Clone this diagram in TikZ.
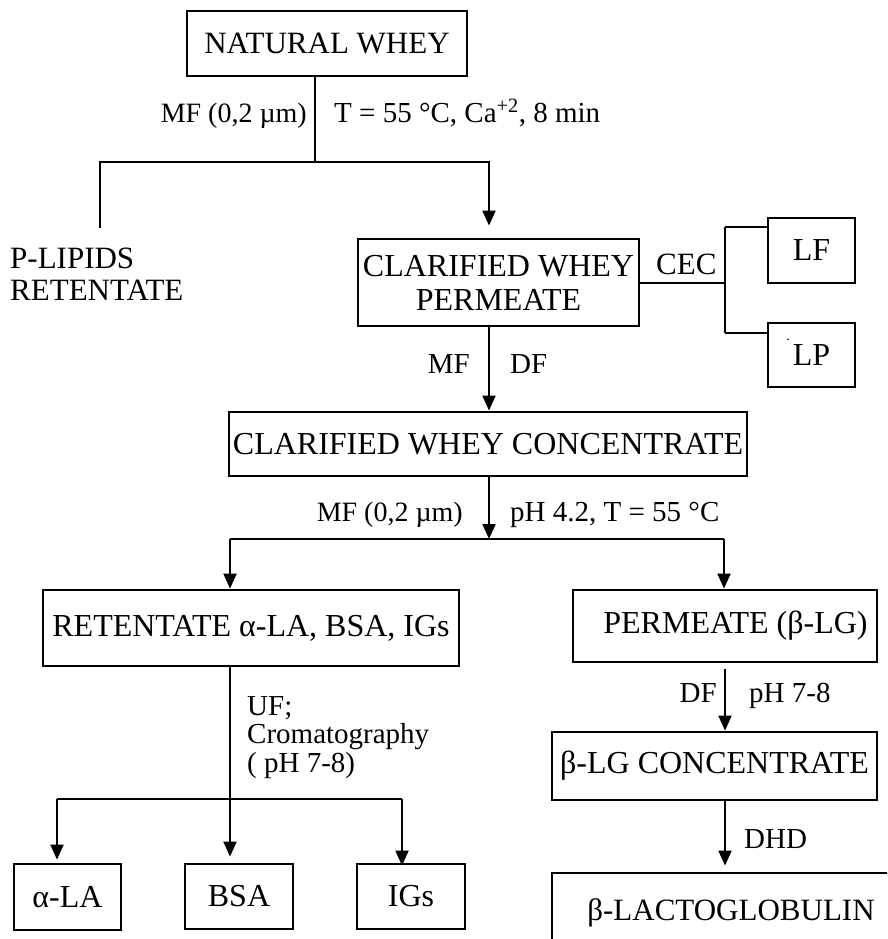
\documentclass[tikz,border=0pt]{standalone}
\usepackage{fontspec}
\setmainfont{Liberation Serif}
\usetikzlibrary{arrows.meta}
\begin{document}
\begin{tikzpicture}[x=1pt,y=-1pt,
  box/.style={draw, line width=2.8pt, inner sep=0pt, align=center,
              font=\fontsize{32}{34}\selectfont},
  boxs/.style={box, font=\fontsize{31}{34}\selectfont},
  lbl/.style={inner sep=0pt, font=\fontsize{29}{29}\selectfont},
  small/.style={lbl, font=\fontsize{28}{28}\selectfont},
  flow/.style={line width=2pt},
  arr/.style={flow, -{Triangle[length=15pt,width=13pt]}}
]
\useasboundingbox (0,0) rectangle (887,939);
\clip (0,0) rectangle (887,939);

% process boxes
\node[boxs, minimum width=280pt, minimum height=65pt] (nw)  at (327,43.5)  {NATURAL WHEY};
\node[box, minimum width=281pt, minimum height=87pt] (cwp) at (498.5,282.5) {CLARIFIED WHEY\\PERMEATE};
\node[box, minimum width=87pt,  minimum height=65pt] (lf)  at (811.5,250.5) {LF};
\node[box, minimum width=87pt,  minimum height=64pt] (lp)  at (811.5,355)  {LP};
\node[inner sep=0pt, font=\fontsize{14}{14}\selectfont] (lpdot) at (788,340) {.};
\node[box, minimum width=518pt, minimum height=64pt] (cwc) at (488,444)    {CLARIFIED WHEY CONCENTRATE};
\node[box, minimum width=416pt, minimum height=76pt] (ret) at (251,628)    {RETENTATE α-LA, BSA, IGs};
\node[box, minimum width=304pt, minimum height=72pt] (perm) at (725,626)   {\hspace*{21pt}PERMEATE (β-LG)};
\node[box, minimum width=325pt, minimum height=68pt] (bconc) at (714.5,766) {β-LG CONCENTRATE};
\node[box, minimum width=107pt, minimum height=66pt] (ala) at (67.5,897)   {α-LA};
\node[box, minimum width=108pt, minimum height=65pt] (bsa) at (239,896.5)  {BSA};
\node[box, minimum width=108pt, minimum height=65pt] (igs) at (411,896.5)  {IGs};
\node[boxs, minimum width=358pt, minimum height=80pt] (blg) at (731,913)    {β-LACTOGLOBULIN};

% free product text
\node[inner sep=0pt, anchor=north west, align=left, font=\fontsize{31}{32}\selectfont]
  (plip) at (10,247.5) {P-LIPIDS\\RETENTATE};

% branch points
\coordinate (j1) at (315,162);
\coordinate (plend) at (100,228);
\coordinate (xa) at (489,0);
\coordinate (c1) at (725,283);
\coordinate (c2) at (725,227);
\coordinate (c3) at (725,333);
\coordinate (j2) at (489,539);
\coordinate (jl) at (230,539);
\coordinate (jr) at (724,539);
\coordinate (k1) at (57,799);
\coordinate (k2) at (402,799);

% first microfiltration
\draw[flow] (nw.south -| j1) -- (j1);
\draw[flow] (plend) |- (j1);
\draw[arr, shorten >=12pt] (j1) -| (cwp.north -| xa);
\node[small, anchor=base east] (l1) at (307,122) {MF (0,2 µm)};
\node[lbl, anchor=base west] (l2) at (334,122) {T = 55 °C, Ca\textsuperscript{+2}, 8 min};

% cation exchange side stream
\draw[flow] (cwp.east |- c1) -- (c1);
\draw[flow] (c2) -- (c3);
\draw[flow] (c2) -- (lf.west |- c2);
\draw[flow] (c3) -- (lp.west |- c3);
\node[lbl, anchor=base west, font=\fontsize{31}{31}\selectfont] (cec) at (656,274) {CEC};

% concentration
\draw[arr] (cwp.south -| xa) -- (cwc.north -| xa);
\node[lbl, anchor=base east] (l3) at (470,373) {MF};
\node[lbl, anchor=base west] (l4) at (510,373) {DF};

% second microfiltration
\draw[arr] (cwc.south -| xa) -- (j2);
\draw[flow] (jl) -- (jr);
\draw[arr] (jl) -- (ret.north -| jl);
\draw[arr] (jr) -- (perm.north -| jr);
\node[small, anchor=base east] (l5) at (463,521) {MF (0,2 µm)};
\node[lbl, anchor=base west] (l6) at (510,521) {pH 4.2, T = 55 °C};

% retentate fractionation
\draw[arr, shorten >=6pt] (ret.south -| jl) -- (bsa.north -| jl);
\draw[flow] (k1) -- (k2);
\draw[arr, shorten >=3pt] (k1) -- (ala.north -| k1);
\draw[arr, shorten >=-3pt] (k2) -- (igs.north -| k2);
\node[lbl, anchor=north west, align=left, font=\fontsize{29}{28.5}\selectfont] (l7) at (247,696) {UF;\\Cromatography\\( pH 7-8)};

% permeate line
\draw[arr, shorten <=6pt] (perm.south) -- (bconc.north -| perm.south);
\node[lbl, anchor=base east] (l8) at (717,702) {DF};
\node[lbl, anchor=base west] (l9) at (749,702) {pH 7-8};
\draw[arr, shorten >=6pt] (bconc.south -| perm.south) -- (blg.north -| perm.south);
\node[lbl, anchor=base west] (l10) at (744,848) {DHD};
\end{tikzpicture}
\end{document}
